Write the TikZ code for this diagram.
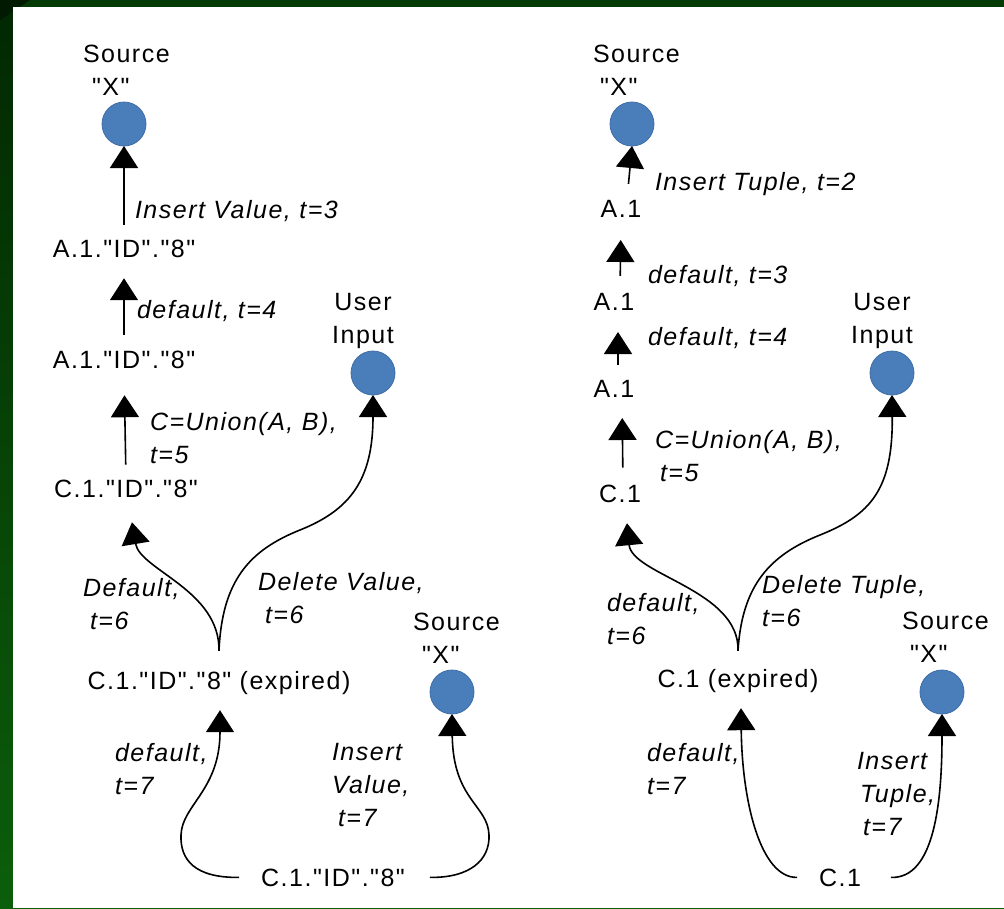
\documentclass[tikz,border=0pt]{standalone}
\usepackage{fontspec}
\setmainfont{Liberation Sans}[Ligatures=TeXOff, LetterSpace=6]
\usetikzlibrary{arrows.meta}
\definecolor{dotblue}{HTML}{4A7EBB}
\definecolor{dotedge}{HTML}{3D6DA6}
\definecolor{gtop}{HTML}{022802}
\definecolor{gbot}{HTML}{0B5E0B}
\definecolor{gstrip}{HTML}{043A04}
\definecolor{gdark}{HTML}{011A01}
\begin{document}
\begin{tikzpicture}[x=1pt,y=-1pt,
  every node/.style={inner sep=0pt, outer sep=0pt, font=\fontsize{25}{33}\selectfont},
  dot/.style={circle, fill=dotblue, draw=dotedge, line width=0.8pt, minimum size=44pt},
  txt/.style={anchor=base},
  lbl/.style={anchor=north west, align=left, font=\fontsize{25}{33}\selectfont\itshape},
  src/.style={anchor=north west, align=left},
  usr/.style={anchor=north, align=center},
  arr/.style={-{Triangle[length=22pt,width=28pt]}, line width=1.6pt, black},
]
\useasboundingbox (0,0) rectangle (1004,908);
% background
\fill[top color=gtop, bottom color=gbot] (0,0) rectangle (1004,908);
\fill[gstrip] (0,0) rectangle (1004,7);
\fill[gdark] (0,0) -- (30,0) -- (0,20) -- cycle;
\fill[white] (13,7) rectangle (1004,908);

% ---------- left diagram ----------
\node[dot] (s1) at (124,124) {};
\node[src] (s1l) at (83,45) {Source\\\hspace{9pt}"X"};
\node[txt] (a1) at (124,257) {A.1."ID"."8"};
\node[txt] (a2) at (124,368) {A.1."ID"."8"};
\node[txt] (c1) at (126,497) {C.1."ID"."8"};
\node[dot] (ui) at (373,373) {};
\node[usr] (uil) at (363,293) {User\\Input};
\node[txt] (ex) at (219,689) {C.1."ID"."8" (expired)};
\node[dot] (s2) at (452,692) {};
\node[src] (s2l) at (413,613) {Source\\\hspace{9pt}"X"};
\node[txt] (bt) at (333,886) {C.1."ID"."8"};

\coordinate (e0) at ([yshift=20pt]ex.north);
\coordinate (b0) at ([xshift=-22pt]bt.west);
\coordinate (b1) at ([xshift=25pt]bt.east);

\draw[arr, shorten <=15pt] (a1.north) -- (s1.south);
\draw[arr, shorten <=16pt, shorten >=21pt] (a2.north) -- (a1.south);
\draw[arr, shorten <=15pt, shorten >=27pt] (c1.north) -- (a2.south);
\draw[arr] (e0) .. controls (220,590) and (140,570) .. ([xshift=6pt,yshift=-25pt]c1.south);
\draw[arr] (e0) .. controls (222,580) and (250,550) .. (300,530) .. controls (350,510) and (373,480) .. (ui.south);
\draw[arr] (b0) .. controls (195,878) and (180,860) .. (181,835) .. controls (182,805) and (220,790) .. ([xshift=1pt,yshift=-16pt]ex.south);
\draw[arr] (b1) .. controls (470,878) and (490,860) .. (489,835) .. controls (488,805) and (453,800) .. (s2.south);

\node[lbl] (l1) at (135,200) {Insert Value, t=3};
\node[lbl] (l2) at (137,300) {default, t=4};
\node[lbl] (l3) at (150,412) {C=Union(A, B),\\t=5};
\node[lbl] (l4) at (83,578) {Default,\\\hspace{7pt}t=6};
\node[lbl] (l5) at (258,572) {Delete Value,\\\hspace{7pt}t=6};
\node[lbl] (l6) at (115,743) {default,\\t=7};
\node[lbl] (l7) at (332,743) {Insert\\Value,\\\hspace{6pt}t=7};

% ---------- right diagram ----------
\node[dot] (s4) at (632,124) {};
\node[src] (s4l) at (593,45) {Source\\\hspace{7pt}"X"};
\node[txt] (r1) at (621,217) {A.1};
\node[txt] (r2) at (614,310) {A.1};
\node[txt] (r3) at (614,397) {A.1};
\node[txt] (rc) at (620,502) {C.1};
\node[dot] (u2) at (892,373) {};
\node[usr] (u2l) at (882,293) {User\\Input};
\node[txt] (rx) at (738,687) {C.1 (expired)};
\node[dot] (s5) at (942,692) {};
\node[src] (s5l) at (902,612) {Source\\\hspace{8pt}"X"};
\node[txt] (rb) at (840,886) {C.1};

\coordinate (f0) at ([yshift=18pt]rx.north);
\coordinate (g0) at ([xshift=-22pt]rb.west);
\coordinate (g1) at ([xshift=30pt]rb.east);

\draw[arr, shorten <=16pt] ([xshift=6pt]r1.north) -- (s4.south);
\draw[arr, shorten <=17pt, shorten >=23pt] ([xshift=6pt]r2.north) -- (r1.south);
\draw[arr, shorten <=15pt, shorten >=22pt] ([xshift=4pt]r3.north) -- ([xshift=4pt]r2.south);
\draw[arr, shorten <=17pt, shorten >=21pt] ([xshift=3pt]rc.north) -- ([xshift=8pt]r3.south);
\draw[arr] (f0) .. controls (740,590) and (632,575) .. ([xshift=7pt,yshift=-21pt]rc.south);
\draw[arr] (f0) .. controls (742,585) and (770,555) .. (820,535) .. controls (870,515) and (893,490) .. (u2.south);
\draw[arr] (g0) .. controls (760,878) and (742,800) .. ([xshift=3pt,yshift=-16pt]rx.south);
\draw[arr] (g1) .. controls (935,879) and (942,800) .. (s5.south);

\node[lbl] (r_l1) at (655,172) {Insert Tuple, t=2};
\node[lbl] (r_l2) at (648,265) {default, t=3};
\node[lbl] (r_l3) at (648,327) {default, t=4};
\node[lbl] (r_l4) at (655,430) {C=Union(A, B),\\\hspace{5pt}t=5};
\node[lbl] (r_l5) at (607,593) {default,\\t=6};
\node[lbl] (r_l6) at (762,575) {Delete Tuple,\\t=6};
\node[lbl] (r_l7) at (647,743) {default,\\t=7};
\node[lbl] (r_l8) at (857,752) {Insert\\\hspace{3pt}Tuple,\\\hspace{6pt}t=7};
\end{tikzpicture}
\end{document}
